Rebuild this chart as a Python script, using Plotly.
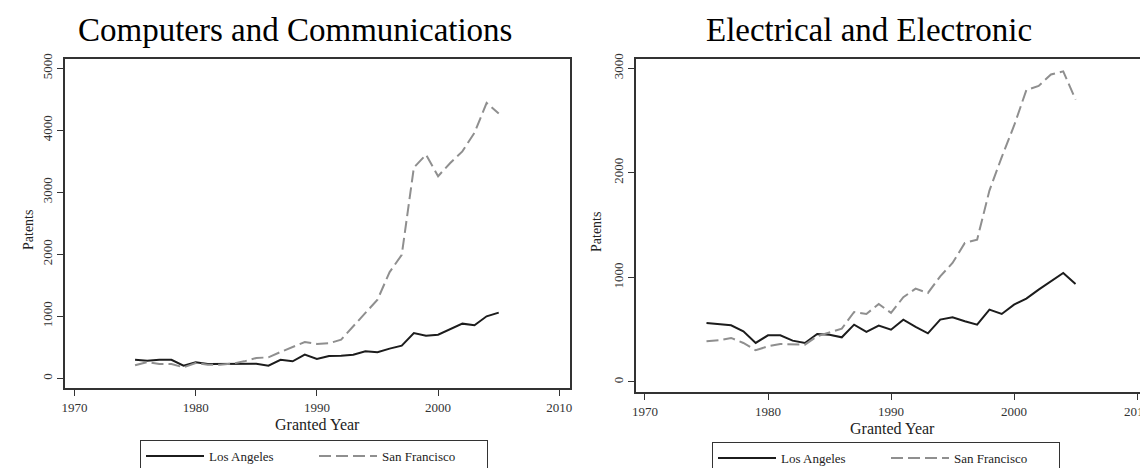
import plotly.graph_objects as go

# ---- data ----
years = list(range(1975, 2006))

la_cc = [300, 285, 300, 300, 205, 258, 231, 231, 236, 236, 236, 205, 300, 274, 382, 312,
         360, 366, 382, 436, 420, 479, 527, 731, 688, 704, 796, 882, 855, 1000, 1059]
sf_cc = [210, 263, 231, 231, 177, 247, 220, 220, 236, 274, 328, 338, 425, 500, 586, 554,
         565, 624, 839, 1060, 1269, 1714, 1990, 3400, 3607, 3260, 3472, 3660, 3960, 4440, 4270]

la_ee = [564, 554, 542, 484, 373, 446, 446, 395, 373, 459, 452, 427, 548, 478, 539, 500,
         596, 526, 465, 596, 618, 580, 548, 692, 650, 739, 797, 883, 962, 1042, 937]
sf_ee = [389, 398, 421, 373, 303, 341, 363, 363, 357, 437, 475, 510, 669, 650, 746, 660,
         810, 892, 851, 1010, 1138, 1329, 1361, 1830, 2150, 2450, 2790, 2830, 2940, 2970, 2700]

x_ticks = [1970, 1980, 1990, 2000, 2010]
y_ticks_cc = [0, 1000, 2000, 3000, 4000, 5000]
y_ticks_ee = [0, 1000, 2000, 3000]

titles = ["Computers and Communications", "Electrical and Electronic"]
series_names = ["Los Angeles", "San Francisco"]
x_title = "Granted Year"
y_title = "Patents"

# ---- styling ----
W, H = 1148, 468
SERIF = "Liberation Serif, Times New Roman, serif"
LA_LINE = dict(color="#1c1c1c", width=2)
SF_LINE = dict(color="#8f8f8f", width=2, dash="12px,5px")
AX_COL = "#333333"

fig = go.Figure()

fig.add_trace(go.Scatter(x=years, y=la_cc, mode="lines", name=series_names[0],
                         line=LA_LINE, xaxis="x", yaxis="y", legend="legend"))
fig.add_trace(go.Scatter(x=years, y=sf_cc, mode="lines", name=series_names[1],
                         line=SF_LINE, xaxis="x", yaxis="y", legend="legend"))
fig.add_trace(go.Scatter(x=years, y=la_ee, mode="lines", name=series_names[0],
                         line=LA_LINE, xaxis="x2", yaxis="y2", legend="legend2"))
fig.add_trace(go.Scatter(x=years, y=sf_ee, mode="lines", name=series_names[1],
                         line=SF_LINE, xaxis="x2", yaxis="y2", legend="legend2"))


def px_x(p):
    return p / W


def px_y(p):
    return 1 - p / H


common_axis = dict(showline=True, linecolor=AX_COL, linewidth=2, mirror=True,
                   showgrid=False, zeroline=False, ticks="outside", ticklen=6,
                   tickwidth=1.2, tickcolor=AX_COL,
                   tickfont=dict(family=SERIF, size=13, color="#333333"))

legend_common = dict(orientation="h", xanchor="left", yanchor="top",
                     bordercolor=AX_COL, borderwidth=1, bgcolor="white",
                     itemwidth=58, entrywidth=100,
                     font=dict(family=SERIF, size=13, color="#222222"))

fig.update_layout(
    width=W, height=H,
    paper_bgcolor="white", plot_bgcolor="white",
    margin=dict(l=0, r=0, t=0, b=0, autoexpand=False),
    xaxis=dict(domain=[px_x(57), px_x(562)], anchor="y", range=[1969.22, 2010.88],
               tickvals=x_ticks, **common_axis),
    yaxis=dict(domain=[px_y(380), px_y(51)], anchor="x", range=[-156, 5150],
               tickvals=y_ticks_cc, tickangle=-90, **common_axis),
    xaxis2=dict(domain=[px_x(628), px_x(1140)], anchor="y2", range=[1969.27, 2010.89],
                tickvals=x_ticks, **common_axis),
    yaxis2=dict(domain=[px_y(384), px_y(51)], anchor="x2", range=[-96, 3088],
                tickvals=y_ticks_ee, tickangle=-90, **common_axis),
    legend=dict(x=px_x(132), y=px_y(432), **legend_common),
    legend2=dict(x=px_x(704), y=px_y(434), **legend_common),
    showlegend=True,
)

annotations = [
    dict(text=titles[0], x=px_x(287), y=px_y(22), xref="paper", yref="paper",
         xanchor="center", yanchor="middle", showarrow=False,
         font=dict(family=SERIF, size=33, color="black")),
    dict(text=titles[1], x=px_x(861), y=px_y(22), xref="paper", yref="paper",
         xanchor="center", yanchor="middle", showarrow=False,
         font=dict(family=SERIF, size=33, color="black")),
    dict(text=x_title, x=px_x(309.5), y=px_y(416), xref="paper", yref="paper",
         xanchor="center", yanchor="middle", showarrow=False,
         font=dict(family=SERIF, size=16, color="#222222")),
    dict(text=x_title, x=px_x(884), y=px_y(420), xref="paper", yref="paper",
         xanchor="center", yanchor="middle", showarrow=False,
         font=dict(family=SERIF, size=16, color="#222222")),
    dict(text=y_title, x=px_x(20), y=px_y(222), xref="paper", yref="paper",
         xanchor="center", yanchor="middle", showarrow=False, textangle=-90,
         font=dict(family=SERIF, size=14, color="#222222")),
    dict(text=y_title, x=px_x(588), y=px_y(224), xref="paper", yref="paper",
         xanchor="center", yanchor="middle", showarrow=False, textangle=-90,
         font=dict(family=SERIF, size=14, color="#222222")),
]
fig.update_layout(annotations=annotations)

fig.write_html("out.html")
